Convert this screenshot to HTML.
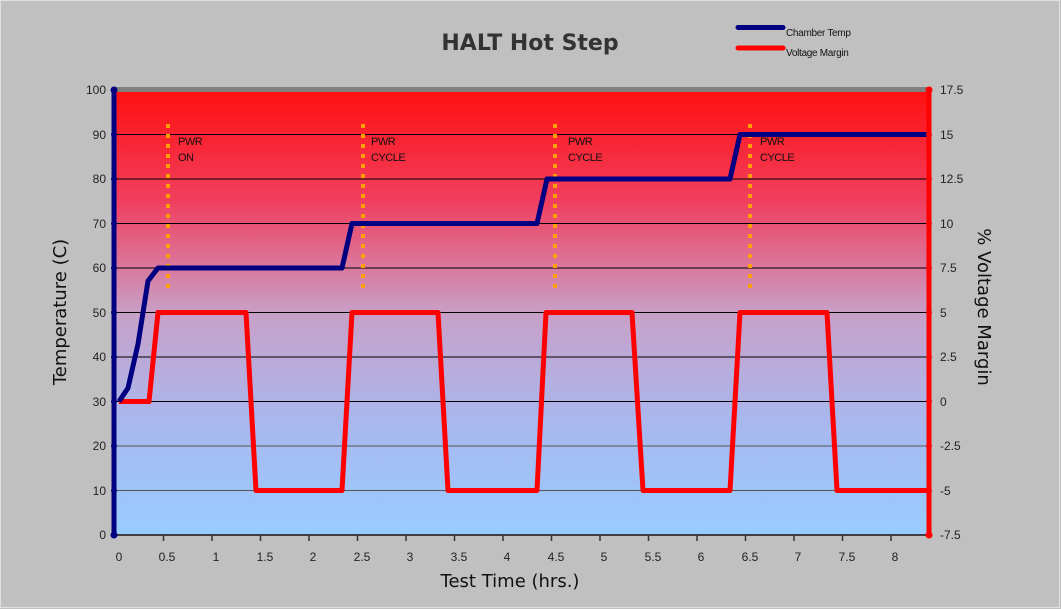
<!DOCTYPE html><html><head><style>body{margin:0;background:#c0c0c0;}svg{display:block}</style></head><body>
<svg width="1061" height="609" xmlns="http://www.w3.org/2000/svg" font-family="Liberation Sans, sans-serif">
<defs><linearGradient id="g" x1="0" y1="0" x2="0" y2="1">
<stop offset="0" stop-color="#ff1010"/><stop offset="0.25" stop-color="#f04060"/><stop offset="0.5" stop-color="#c8a0c8"/><stop offset="0.75" stop-color="#a8b8ee"/><stop offset="1" stop-color="#99ccff"/></linearGradient></defs>
<rect x="0" y="0" width="1061" height="609" fill="#c0c0c0"/>
<rect x="0.5" y="0.5" width="1059" height="607" fill="none" stroke="#e0e0e0"/>
<rect x="116" y="87" width="812" height="5" fill="#808080"/>
<rect x="116" y="92" width="812" height="443" fill="url(#g)"/>
<line x1="116" y1="535" x2="928" y2="535" stroke="#404040" stroke-width="2"/>
<g stroke="#000" stroke-width="1">
<line x1="116" y1="134.5" x2="928" y2="134.5"/><line x1="116" y1="179" x2="928" y2="179"/><line x1="116" y1="223.5" x2="928" y2="223.5"/><line x1="116" y1="268" x2="928" y2="268"/><line x1="116" y1="312.5" x2="928" y2="312.5"/><line x1="116" y1="357" x2="928" y2="357"/><line x1="116" y1="401.5" x2="928" y2="401.5"/><line x1="116" y1="446" x2="928" y2="446" stroke="#555"/><line x1="116" y1="490.5" x2="928" y2="490.5" stroke="#555"/>
</g>
<g stroke="#333" stroke-width="1.5">
<line x1="163.5" y1="535" x2="163.5" y2="541"/><line x1="212" y1="535" x2="212" y2="541"/><line x1="260.5" y1="535" x2="260.5" y2="541"/><line x1="309" y1="535" x2="309" y2="541"/><line x1="357.5" y1="535" x2="357.5" y2="541"/><line x1="406" y1="535" x2="406" y2="541"/><line x1="454.5" y1="535" x2="454.5" y2="541"/><line x1="503" y1="535" x2="503" y2="541"/><line x1="551.5" y1="535" x2="551.5" y2="541"/><line x1="600" y1="535" x2="600" y2="541"/><line x1="648.5" y1="535" x2="648.5" y2="541"/><line x1="697" y1="535" x2="697" y2="541"/><line x1="745.5" y1="535" x2="745.5" y2="541"/><line x1="794" y1="535" x2="794" y2="541"/><line x1="842.5" y1="535" x2="842.5" y2="541"/><line x1="891" y1="535" x2="891" y2="541"/>
</g>
<g stroke="#ffa000" stroke-width="4" stroke-dasharray="4,6">
<line x1="168" y1="124" x2="168" y2="288"/><line x1="363" y1="124" x2="363" y2="288"/><line x1="555" y1="124" x2="555" y2="288"/><line x1="750" y1="124" x2="750" y2="288"/>
</g>
<g font-size="11" fill="#111" letter-spacing="-0.5">
<text x="178" y="145">PWR</text><text x="178" y="161">ON</text>
<text x="371" y="145">PWR</text><text x="371" y="161">CYCLE</text>
<text x="568" y="145">PWR</text><text x="568" y="161">CYCLE</text>
<text x="760" y="145">PWR</text><text x="760" y="161">CYCLE</text>
</g>
<polyline fill="none" stroke="#ff0000" stroke-width="5" stroke-linejoin="round" points="119,401.5 149,401.5 158,312.5 246,312.5 256,490.5 342,490.5 352,312.5 438,312.5 448,490.5 537,490.5 546,312.5 632,312.5 643,490.5 730,490.5 740,312.5 827,312.5 837,490.5 928,490.5"/>
<polyline fill="none" stroke="#000080" stroke-width="5" stroke-linejoin="round" points="119,401.5 128,388 138,344 148,281 158,268 342,268 352,223.5 537,223.5 547,179 730,179 740,134.5 928,134.5"/>
<line x1="114" y1="90" x2="114" y2="535" stroke="#000080" stroke-width="5"/>
<line x1="929" y1="90" x2="929" y2="535" stroke="#ff0000" stroke-width="5"/>
<g fill="#000080"><circle cx="114" cy="90" r="3.5"/><circle cx="114" cy="134.5" r="3"/><circle cx="114" cy="179" r="3"/><circle cx="114" cy="223.5" r="3"/><circle cx="114" cy="268" r="3"/><circle cx="114" cy="312.5" r="3"/><circle cx="114" cy="357" r="3"/><circle cx="114" cy="401.5" r="3"/><circle cx="114" cy="446" r="3"/><circle cx="114" cy="490.5" r="3"/><circle cx="114" cy="535" r="3.5"/></g>
<g fill="#ff0000"><circle cx="929" cy="90" r="3.5"/><circle cx="929" cy="134.5" r="3"/><circle cx="929" cy="179" r="3"/><circle cx="929" cy="223.5" r="3"/><circle cx="929" cy="268" r="3"/><circle cx="929" cy="312.5" r="3"/><circle cx="929" cy="357" r="3"/><circle cx="929" cy="401.5" r="3"/><circle cx="929" cy="446" r="3"/><circle cx="929" cy="490.5" r="3"/><circle cx="929" cy="535" r="3.5"/></g>
<g font-size="12" fill="#222" text-anchor="end">
<text x="106" y="94">100</text><text x="106" y="139">90</text><text x="106" y="183">80</text><text x="106" y="228">70</text><text x="106" y="272">60</text><text x="106" y="317">50</text><text x="106" y="361">40</text><text x="106" y="406">30</text><text x="106" y="450">20</text><text x="106" y="495">10</text><text x="106" y="539">0</text>
</g>
<g font-size="12" fill="#222">
<text x="940" y="94">17.5</text><text x="940" y="139">15</text><text x="940" y="183">12.5</text><text x="940" y="228">10</text><text x="940" y="272">7.5</text><text x="940" y="317">5</text><text x="940" y="361">2.5</text><text x="940" y="406">0</text><text x="940" y="450">-2.5</text><text x="940" y="495">-5</text><text x="940" y="539">-7.5</text>
</g>
<g font-size="12" fill="#222" text-anchor="middle">
<text x="119" y="561">0</text><text x="167" y="561">0.5</text><text x="216" y="561">1</text><text x="265" y="561">1.5</text><text x="313" y="561">2</text><text x="362" y="561">2.5</text><text x="410" y="561">3</text><text x="459" y="561">3.5</text><text x="507" y="561">4</text><text x="556" y="561">4.5</text><text x="604" y="561">5</text><text x="653" y="561">5.5</text><text x="701" y="561">6</text><text x="750" y="561">6.5</text><text x="798" y="561">7</text><text x="847" y="561">7.5</text><text x="895" y="561">8</text>
</g>
<text x="530" y="50" font-family="DejaVu Sans, sans-serif" font-weight="bold" font-size="22" fill="#333" text-anchor="middle">HALT Hot Step</text>
<text x="510" y="587" font-family="DejaVu Sans, sans-serif" font-size="18" fill="#111" text-anchor="middle">Test Time (hrs.)</text>
<text transform="translate(66,312) rotate(-90)" font-family="DejaVu Sans, sans-serif" font-size="18" fill="#111" text-anchor="middle">Temperature (C)</text>
<text transform="translate(978,307) rotate(90)" font-family="DejaVu Sans, sans-serif" font-size="18" fill="#111" text-anchor="middle">% Voltage Margin</text>
<line x1="738" y1="27.5" x2="783" y2="27.5" stroke="#000080" stroke-width="5" stroke-linecap="round"/>
<line x1="738" y1="48" x2="783" y2="48" stroke="#ff0000" stroke-width="5" stroke-linecap="round"/>
<g font-size="10" fill="#111" letter-spacing="-0.3"><text x="786" y="36">Chamber Temp</text><text x="786" y="56">Voltage Margin</text></g>
</svg>
</body></html>
